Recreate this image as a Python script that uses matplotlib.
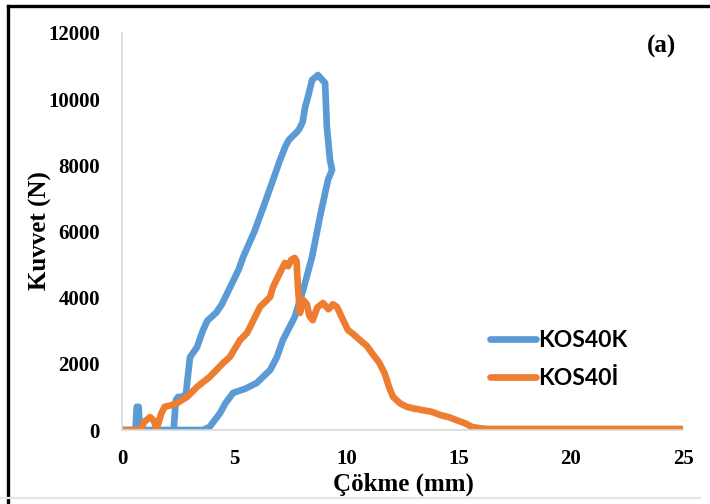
import matplotlib
matplotlib.use('Agg')
import matplotlib.pyplot as plt
from matplotlib.lines import Line2D

# KOS40K (blue) - load/deflection path
kos40k_x = [0, 0.6, 0.66, 0.74, 0.8, 2.3, 2.4, 2.5, 2.7, 2.85, 3.03, 3.34, 3.6, 3.8,
            4.2, 4.45, 4.7, 5.2, 5.4, 5.9, 6.3, 6.7, 7.04, 7.3, 7.45, 7.8, 7.9, 8.05,
            8.16, 8.3, 8.47, 8.6, 8.73, 8.9, 9.05, 9.13, 9.27, 9.36, 9.18, 9.0, 8.82,
            8.47, 8.07, 7.7, 7.17, 6.9, 6.6, 6.0, 5.5, 4.95, 4.6, 4.37, 3.9, 3.6, 2.4]
kos40k_y = [0, 0, 700, 700, 0, 0, 900, 1000, 1000, 1100, 2200, 2500, 3000, 3300,
            3550, 3800, 4150, 4850, 5230, 6000, 6740, 7500, 8160, 8600, 8780, 9010, 9100, 9310,
            9760, 10100, 10580, 10650, 10730, 10600, 10490, 9160, 8160, 7860, 7560, 7000, 6440,
            5230, 4230, 3420, 2720, 2200, 1810, 1420, 1250, 1120, 800, 510, 90, 0, 0]

# KOS40İ (orange)
kos40i_x = [0, 0.8, 1.0, 1.25, 1.4, 1.55, 1.75, 1.9, 2.2, 2.45, 2.9, 3.34, 3.9, 4.5,
            4.8, 5.26, 5.57, 6.15, 6.6, 6.73, 7.0, 7.17, 7.26, 7.4, 7.55, 7.7, 7.78, 7.84,
            7.93, 8.07, 8.24, 8.35, 8.5, 8.7, 8.96, 9.2, 9.4, 9.58, 9.8, 10.07, 10.3, 10.7,
            10.9, 11.2, 11.45, 11.7, 11.9, 12.08, 12.4, 12.7, 13.0, 13.4, 13.8, 14.2, 14.6,
            14.9, 15.3, 15.6, 16.0, 16.3, 17, 18, 19, 20, 21, 22, 23, 24, 25]
kos40i_y = [0, 0, 250, 390, 300, 50, 500, 700, 750, 810, 1000, 1300, 1600, 2020,
            2200, 2720, 2930, 3720, 4020, 4320, 4700, 4930, 5050, 4950, 5150, 5200, 5100, 4320,
            3540, 3930, 3800, 3450, 3320, 3700, 3840, 3650, 3800, 3720, 3400, 3020, 2900, 2660,
            2550, 2270, 2050, 1720, 1300, 1000, 800, 700, 650, 600, 550, 450, 380,
            300, 200, 90, 50, 30, 30, 30, 30, 30, 30, 30, 30, 30, 30]

x_ticks = [0, 5, 10, 15, 20, 25]
y_ticks = [0, 2000, 4000, 6000, 8000, 10000, 12000]

BLUE = '#5B9BD5'
ORANGE = '#ED7D31'
SERIF = 'Liberation Serif'

fig = plt.figure(figsize=(7.1, 5.04), dpi=100, facecolor='white')
W, H = 710, 504

ax = fig.add_axes([122 / W, 1 - 430 / H, (683 - 122) / W, (430 - 33) / H])

ax.plot(kos40k_x, kos40k_y, color=BLUE, lw=4.8, label='KOS40K',
        solid_joinstyle='round', solid_capstyle='round')
ax.plot(kos40i_x, kos40i_y, color=ORANGE, lw=4.8, label='KOS40İ',
        solid_joinstyle='round', solid_capstyle='round')

ax.set_xlim(0, 25)
ax.set_ylim(0, 12000)
ax.set_xticks(x_ticks)
ax.set_yticks(y_ticks)
ax.set_xticklabels([str(t) for t in x_ticks], fontfamily=SERIF, fontweight='bold', fontsize=15)
ax.set_yticklabels([str(t) for t in y_ticks], fontfamily=SERIF, fontweight='bold', fontsize=15)
ax.tick_params(axis='both', length=0)
ax.tick_params(axis='x', pad=14)
ax.tick_params(axis='y', pad=16)

for side in ['top', 'right']:
    ax.spines[side].set_visible(False)
for side in ['left', 'bottom']:
    ax.spines[side].set_color('#D9D9D9')
    ax.spines[side].set_linewidth(1.2)

fig.text(40 / W, 1 - 231 / H, 'Kuvvet (N)', rotation=90, ha='center', va='center',
         fontfamily=SERIF, fontweight='bold', fontsize=18)
fig.text(403 / W, 1 - 484 / H, 'Çökme (mm)', ha='center', va='center',
         fontfamily=SERIF, fontweight='bold', fontsize=18)
fig.text(661 / W, 1 - 46 / H, '(a)', ha='center', va='center',
         fontfamily=SERIF, fontweight='bold', fontsize=18)

fig.legend(loc='upper left', bbox_to_anchor=(490 / W, 1 - 330 / H),
           frameon=False, borderpad=0, borderaxespad=0,
           prop={'family': 'Lato', 'weight': 'bold', 'size': 16.5},
           handlelength=2.0, handletextpad=0.1, labelspacing=0.75)

# frame around the figure
line_kw = dict(transform=fig.transFigure, clip_on=False)
fig.add_artist(Line2D([8 / W, 1], [1 - 6 / H, 1 - 6 / H], color='black', lw=2.4, **line_kw))
fig.add_artist(Line2D([8 / W, 8 / W], [0, 1 - 6 / H], color='black', lw=2.4, **line_kw))
fig.add_artist(Line2D([0, 700 / W], [1 - 498 / H, 1 - 498 / H], color='#E6E6E6', lw=1.6, **line_kw))

fig.savefig('out.png', dpi=100, facecolor='white')
